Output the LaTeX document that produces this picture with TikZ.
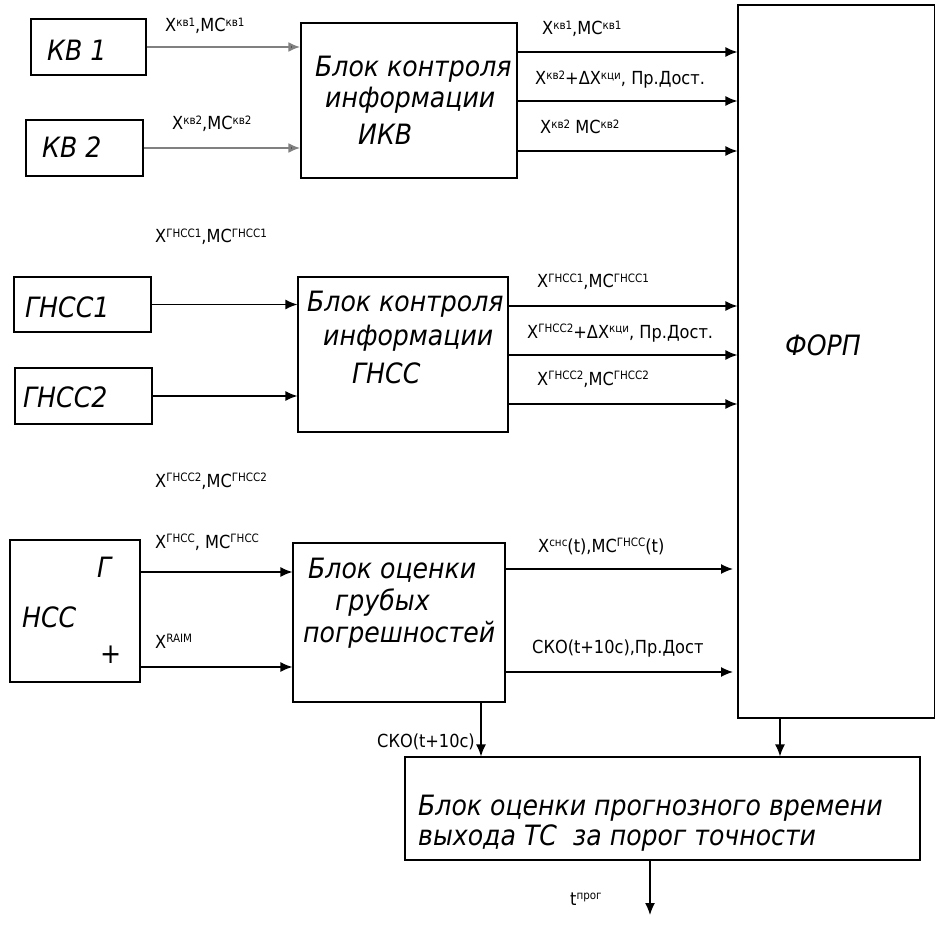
\documentclass[tikz,border=0pt]{standalone}
\usepackage{fontspec}
\setmainfont{DejaVu Sans Condensed}
\usetikzlibrary{arrows.meta}
\newcommand{\sps}[1]{\raisebox{0.6ex}{\fontsize{11.5}{11.5}\selectfont #1}}
\tikzset{
  blk/.style={draw, line width=1.2pt, rectangle, inner sep=0pt},
  btxt/.style={inner sep=0pt, anchor=base west, font=\fontsize{28}{34}\selectfont\itshape},
  lbl/.style={inner sep=0pt, anchor=base west, font=\fontsize{18}{20}\selectfont},
  arr/.style={-{Latex[length=12pt,width=10pt]}, line width=1.3pt},
  garr/.style={-{Latex[length=12pt,width=10pt,fill=black!85]}, line width=2.6pt, draw=black!50},
}
\begin{document}
\begin{tikzpicture}[x=1pt,y=-1pt]
\useasboundingbox[fill=white] (0,0) rectangle (935,928);
% boxes
\node[blk, minimum width=115, minimum height=56] (kv1) at (88.5,47) {};
\node[btxt] (kv1t) at (47,61) {КВ 1};
\node[blk, minimum width=117, minimum height=56] (kv2) at (84.5,148) {};
\node[btxt] (kv2t) at (42,158) {КВ 2};
\node[blk, minimum width=216, minimum height=155] (ikv) at (409,100.5) {};
\node[btxt] (ikv1) at (315,77) {Блок контроля};
\node[btxt] (ikv2) at (325,108) {информации};
\node[btxt] (ikv3) at (358,145) {ИКВ};
\node[blk, minimum width=197, minimum height=713] (forp) at (836.5,361.5) {};
\node[btxt] (forpt) at (785,355) {ФОРП};
\node[blk, minimum width=137, minimum height=55] (g1) at (82.5,304.5) {};
\node[btxt] (g1t) at (25,318) {ГНСС1};
\node[blk, minimum width=137, minimum height=56] (g2) at (83.5,396) {};
\node[btxt] (g2t) at (23,407) {ГНСС2};
\node[blk, minimum width=210, minimum height=155] (gb) at (403,354.5) {};
\node[btxt] (gb1) at (307,312) {Блок контроля};
\node[btxt] (gb2) at (323,345) {информации};
\node[btxt] (gb3) at (352,383) {ГНСС};
\node[blk, minimum width=130, minimum height=142] (nss) at (75,611) {};
\node[btxt] (nssg) at (97,577) {Г};
\node[btxt] (nssh) at (22,627) {НСС};
\node[btxt] (nssp) at (100,663) {+};
\node[blk, minimum width=212, minimum height=159] (gr) at (399,622.5) {};
\node[btxt] (gr1) at (308,578) {Блок оценки};
\node[btxt] (gr2) at (335,610) {грубых};
\node[btxt] (gr3) at (303,642) {погрешностей};
\node[blk, minimum width=515, minimum height=103] (pt) at (662.5,808.5) {};
\node[btxt] (pt1) at (418,815) {Блок оценки прогнозного времени};
\node[btxt] (pt2) at (418,845) {выхода ТС\ \ за порог точности};
% arrows
\draw[garr] (kv1.east) -- (ikv.west |- kv1.east);
\draw[garr] (kv2.east) -- (ikv.west |- kv2.east);
\foreach \yy in {52,101,151} \draw[arr] (ikv.east |- 0,\yy) -- (forp.west |- 0,\yy);
\draw[arr] (g1.east) -- (gb.west |- g1.east);
\draw[arr] (g2.east) -- (gb.west |- g2.east);
\foreach \yy in {306,355,404} \draw[arr] (gb.east |- 0,\yy) -- (forp.west |- 0,\yy);
\draw[arr] (nss.east |- 0,572) -- (gr.west |- 0,572);
\draw[arr] (nss.east |- 0,667) -- (gr.west |- 0,667);
\coordinate (f1) at (733,569);
\coordinate (f2) at (733,672);
\draw[arr] (gr.east |- f1) -- (f1);
\draw[arr] (gr.east |- f2) -- (f2);
\draw[arr] (gr.south -| 481,0) -- (pt.north -| 481,0);
\draw[arr] (forp.south -| 780,0) -- (pt.north -| 780,0);
\coordinate (tout) at (650,915);
\draw[arr] (pt.south -| tout) -- (tout);
% labels
\node[lbl] (l1) at (165,32) {X\sps{кв1},MC\sps{кв1}};
\node[lbl] (l2) at (172,130) {X\sps{кв2},MC\sps{кв2}};
\node[lbl] (l3) at (542,35) {X\sps{кв1},MC\sps{кв1}};
\node[lbl] (l4) at (535,85) {X\sps{кв2}+ΔX\sps{кци}, Пр.Дост.};
\node[lbl] (l5) at (540,134) {X\sps{кв2} MC\sps{кв2}};
\node[lbl] (l6) at (155,243) {X\sps{ГНСС1},MC\sps{ГНСС1}};
\node[lbl] (l7) at (537,288) {X\sps{ГНСС1},MC\sps{ГНСС1}};
\node[lbl] (l8) at (527,338) {X\sps{ГНСС2}+ΔX\sps{кци}, Пр.Дост.};
\node[lbl] (l9) at (537,385) {X\sps{ГНСС2},MC\sps{ГНСС2}};
\node[lbl] (l10) at (155,487) {X\sps{ГНСС2},MC\sps{ГНСС2}};
\node[lbl] (l11) at (155,548) {X\sps{ГНСС}, MC\sps{ГНСС}};
\node[lbl] (l12) at (155,648) {X\sps{RAIM}};
\node[lbl] (l13) at (538,552) {X\sps{снс}(t),MC\sps{ГНСС}(t)};
\node[lbl] (l14) at (532,653) {СКО(t+10c),Пр.Дост};
\node[lbl] (l15) at (377,747) {СКО(t+10c)};
\node[lbl] (l16) at (570,905) {t\sps{прог}};
\end{tikzpicture}
\end{document}
